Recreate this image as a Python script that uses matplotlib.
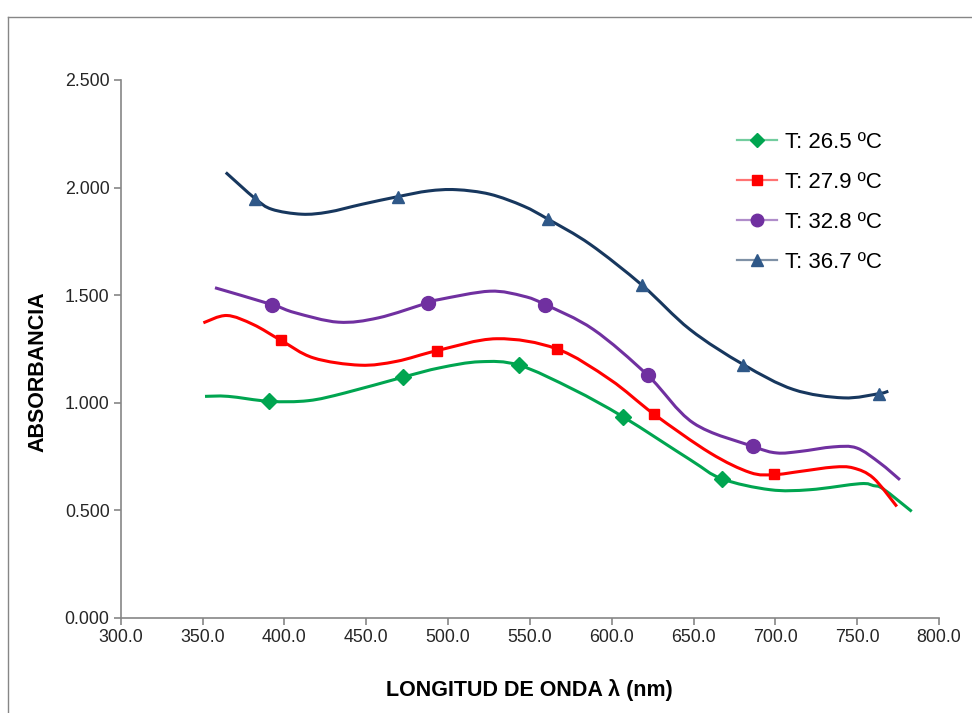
import matplotlib
matplotlib.use("Agg")
import matplotlib.pyplot as plt
from matplotlib.path import Path
from matplotlib.patches import PathPatch
from matplotlib.lines import Line2D
from matplotlib.colors import to_rgba
from matplotlib.ticker import FormatStrFormatter, MultipleLocator

plt.rcParams['font.family'] = ['Liberation Sans', 'DejaVu Sans']

etiquetas = ['T: 26.5 ºC', 'T: 27.9 ºC', 'T: 32.8 ºC', 'T: 36.7 ºC']

# puntos medidos (marcadores)
verde_x = [390.8, 472.3, 543.4, 607.1, 667.2]
verde_y = [1.006, 1.118, 1.174, 0.933, 0.646]
rojo_x = [397.8, 493.5, 566.4, 625.7, 699.2]
rojo_y = [1.290, 1.242, 1.250, 0.947, 0.669]
morado_x = [392.3, 487.6, 559.3, 622.0, 686.5]
morado_y = [1.456, 1.464, 1.456, 1.127, 0.796]
azul_x = [382.1, 469.6, 561.3, 618.7, 680.4, 763.5]
azul_y = [1.949, 1.958, 1.852, 1.545, 1.177, 1.042]

# curvas de tendencia
verde_cx = [351.5, 365.7, 390.8, 414.6, 437.0, 472.3, 495.1, 519.5, 543.4, 576.6,
            607.1, 647.8, 667.2, 696.7, 721.2, 751.7, 759.9, 766.0, 783.3]
verde_cy = [1.029, 1.029, 1.006, 1.009, 1.045, 1.118, 1.162, 1.190, 1.174, 1.061,
            0.933, 0.735, 0.646, 0.595, 0.595, 0.623, 0.614, 0.598, 0.494]
rojo_cx = [350.5, 364.8, 381.0, 397.8, 417.7, 446.2, 468.6, 493.5, 529.7, 566.4,
           599.0, 625.7, 660.1, 684.5, 699.2, 715.1, 735.4, 747.6, 759.9, 774.2]
rojo_cy = [1.371, 1.405, 1.363, 1.290, 1.208, 1.174, 1.192, 1.242, 1.297, 1.250,
           1.107, 0.947, 0.766, 0.675, 0.665, 0.680, 0.700, 0.696, 0.649, 0.517]
morado_cx = [357.6, 392.3, 406.5, 433.0, 457.4, 487.6, 495.1, 525.6, 546.0, 559.3,
             588.8, 622.0, 649.9, 686.5, 700.8, 715.1, 735.4, 749.7, 763.9, 776.1]
morado_cy = [1.534, 1.456, 1.418, 1.374, 1.394, 1.464, 1.480, 1.518, 1.495, 1.456,
             1.340, 1.127, 0.905, 0.796, 0.766, 0.773, 0.794, 0.789, 0.719, 0.641]
azul_cx = [364.2, 382.1, 392.3, 410.6, 426.8, 447.3, 469.6, 488.0, 505.0, 525.6,
           546.0, 561.3, 586.8, 618.7, 647.8, 680.4, 711.0, 741.5, 763.5, 769.0]
azul_cy = [2.070, 1.949, 1.899, 1.876, 1.886, 1.922, 1.958, 1.984, 1.990, 1.969,
           1.914, 1.852, 1.736, 1.545, 1.340, 1.177, 1.061, 1.022, 1.042, 1.053]


def suave(xs, ys):
    # linea suavizada con curvas de Bezier (tipo Catmull-Rom)
    p = list(zip(xs, ys))
    n = len(p)
    verts = [p[0]]
    codes = [Path.MOVETO]
    for i in range(n - 1):
        p0 = p[max(i - 1, 0)]
        p1 = p[i]
        p2 = p[i + 1]
        p3 = p[min(i + 2, n - 1)]
        c1 = (p1[0] + (p2[0] - p0[0]) / 6, p1[1] + (p2[1] - p0[1]) / 6)
        c2 = (p2[0] - (p3[0] - p1[0]) / 6, p2[1] - (p3[1] - p1[1]) / 6)
        verts += [c1, c2, p2]
        codes += [Path.CURVE4] * 3
    return Path(verts, codes)


fig = plt.figure(figsize=(9.72, 7.13), dpi=100)
ax = fig.add_axes([0.1242, 0.1337, 0.8419, 0.7541])

series = [
    (verde_x, verde_y, verde_cx, verde_cy, '#00a550', '#00a550', 'D', 8),
    (rojo_x, rojo_y, rojo_cx, rojo_cy, '#ff0000', '#ff0000', 's', 7.5),
    (morado_x, morado_y, morado_cx, morado_cy, '#7030a0', '#7030a0', 'o', 10),
    (azul_x, azul_y, azul_cx, azul_cy, '#17375e', '#2f5888', '^', 9),
]

handles = []
for mx, my, cx, cy, col, mcol, mk, ms in series:
    ax.add_patch(PathPatch(suave(cx, cy), facecolor='none', edgecolor=col, lw=2.2, zorder=2))
    ax.plot(mx, my, linestyle='none', marker=mk, markersize=ms, color=mcol, zorder=3)
    handles.append(Line2D([], [], color=to_rgba(col, 0.55), lw=1.6, marker=mk,
                          markersize=ms * 0.9, markerfacecolor=mcol, markeredgecolor=mcol))

ax.set_xlim(300, 800)
ax.set_ylim(0, 2.5)
ax.xaxis.set_major_locator(MultipleLocator(50))
ax.yaxis.set_major_locator(MultipleLocator(0.5))
ax.xaxis.set_major_formatter(FormatStrFormatter('%.1f'))
ax.yaxis.set_major_formatter(FormatStrFormatter('%.3f'))

for s in ['top', 'right']:
    ax.spines[s].set_visible(False)
for s in ['left', 'bottom']:
    ax.spines[s].set_color('#868686')
    ax.spines[s].set_linewidth(1.2)
ax.tick_params(axis='both', colors='#868686', labelcolor='#262626', labelsize=12.8,
               length=5, width=1.2, direction='out')
ax.tick_params(axis='x', pad=3)
ax.tick_params(axis='y', pad=3)

fig.text(0.039, 0.478, 'ABSORBANCIA', rotation=90, ha='center', va='center',
         fontsize=15.5, fontweight='bold')
fig.text(0.545, 0.032, 'LONGITUD DE ONDA λ (nm)', ha='center', va='center',
         fontsize=15.5, fontweight='bold')

fig.legend(handles, etiquetas, loc='upper left', bbox_to_anchor=(0.747, 0.831),
           frameon=False, fontsize=16, handlelength=1.8, handletextpad=0.36,
           labelspacing=0.86, borderpad=0)

# marco exterior del grafico
fig.add_artist(Line2D([7.5 / 972, 7.5 / 972], [0, 1 - 17 / 713], transform=fig.transFigure,
                      color='#868686', lw=1))
fig.add_artist(Line2D([7.5 / 972, 1], [1 - 17 / 713, 1 - 17 / 713], transform=fig.transFigure,
                      color='#868686', lw=1))

fig.savefig('out.png', dpi=100)
